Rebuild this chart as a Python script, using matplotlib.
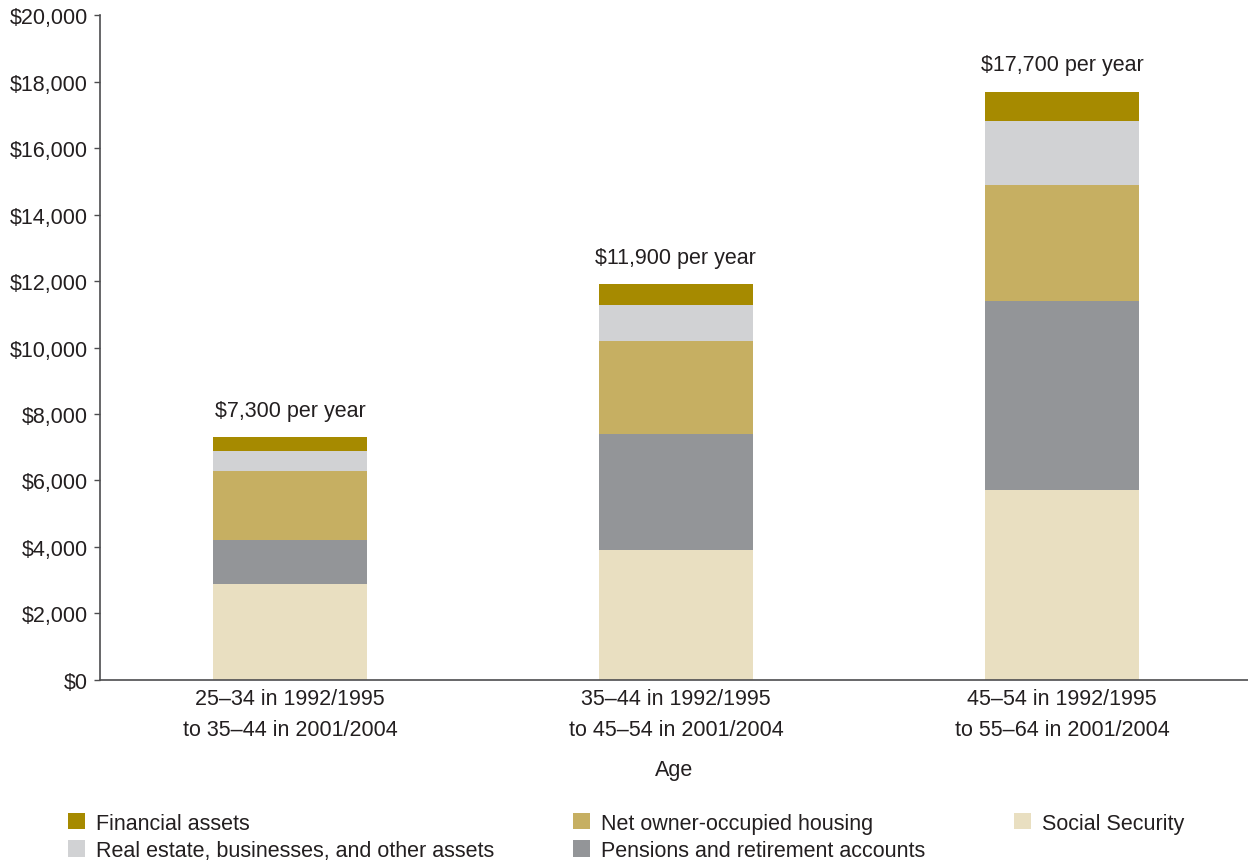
import numpy as np
import matplotlib.pyplot as plt
from matplotlib.ticker import FuncFormatter

plt.rcParams['font.family'] = ['Liberation Sans', 'DejaVu Sans']

# cohorts and per-year gains by source (dollars)
cohorts = ["25\u201334 in 1992/1995\nto 35\u201344 in 2001/2004",
           "35\u201344 in 1992/1995\nto 45\u201354 in 2001/2004",
           "45\u201354 in 1992/1995\nto 55\u201364 in 2001/2004"]
social_security = [2900, 3900, 5700]
pensions = [1300, 3500, 5700]
housing = [2100, 2800, 3500]
real_estate = [600, 1080, 1920]
financial = [400, 620, 880]
totals = [7300, 11900, 17700]

series = [
    ("Social Security", social_security, "#E9DFC1"),
    ("Pensions and retirement accounts", pensions, "#939598"),
    ("Net owner-occupied housing", housing, "#C6AF62"),
    ("Real estate, businesses, and other assets", real_estate, "#D1D2D4"),
    ("Financial assets", financial, "#A68A00"),
]

fs = 15.5
text_color = "#231F20"
fig = plt.figure(figsize=(12.48, 8.62), dpi=100)
ax = fig.add_axes([0.0801, 0.210, 0.9199, 0.7714])

x = np.arange(len(cohorts))
bottom = np.zeros(len(cohorts))
handles = {}
for name, vals, color in series:
    bars = ax.bar(x, vals, width=0.40, bottom=bottom, color=color, label=name)
    handles[name] = bars
    bottom += np.array(vals)

for xi, tot in zip(x, totals):
    ax.annotate(f"${tot:,} per year", (xi, tot), xytext=(0, 12), textcoords="offset points",
                ha="center", va="bottom", fontsize=fs, color=text_color)

ax.set_xlim(-0.492, 2.482)
ax.set_ylim(0, 20000)
ax.set_yticks(np.arange(0, 20001, 2000))
ax.yaxis.set_major_formatter(FuncFormatter(lambda v, p: f"${int(v):,}"))
ax.set_xticks(x)
ax.set_xticklabels(cohorts, fontsize=fs, color=text_color, linespacing=1.6)
ax.tick_params(axis="x", length=0, pad=6)
ax.tick_params(axis="y", labelsize=fs, labelcolor=text_color, length=4, width=1, color="#4D4D4F", pad=4.5)
ax.set_xlabel("Age", fontsize=fs, color=text_color, labelpad=14)

for side in ("top", "right"):
    ax.spines[side].set_visible(False)
for side in ("left", "bottom"):
    ax.spines[side].set_color("#4D4D4F")
    ax.spines[side].set_linewidth(1.2)

# legend: three columns placed individually
columns = [
    (0.0473, ["Financial assets", "Real estate, businesses, and other assets"]),
    (0.4519, ["Net owner-occupied housing", "Pensions and retirement accounts"]),
    (0.8053, ["Social Security"]),
]
for xpos, names in columns:
    leg = fig.legend([handles[n] for n in names], names, loc="upper left",
                     bbox_to_anchor=(xpos, 0.066), frameon=False, fontsize=fs,
                     handlelength=0.8, handleheight=0.8, handletextpad=0.5,
                     labelspacing=0.3, borderaxespad=0)
    for t in leg.get_texts():
        t.set_color(text_color)

fig.savefig("out.png", dpi=100)
